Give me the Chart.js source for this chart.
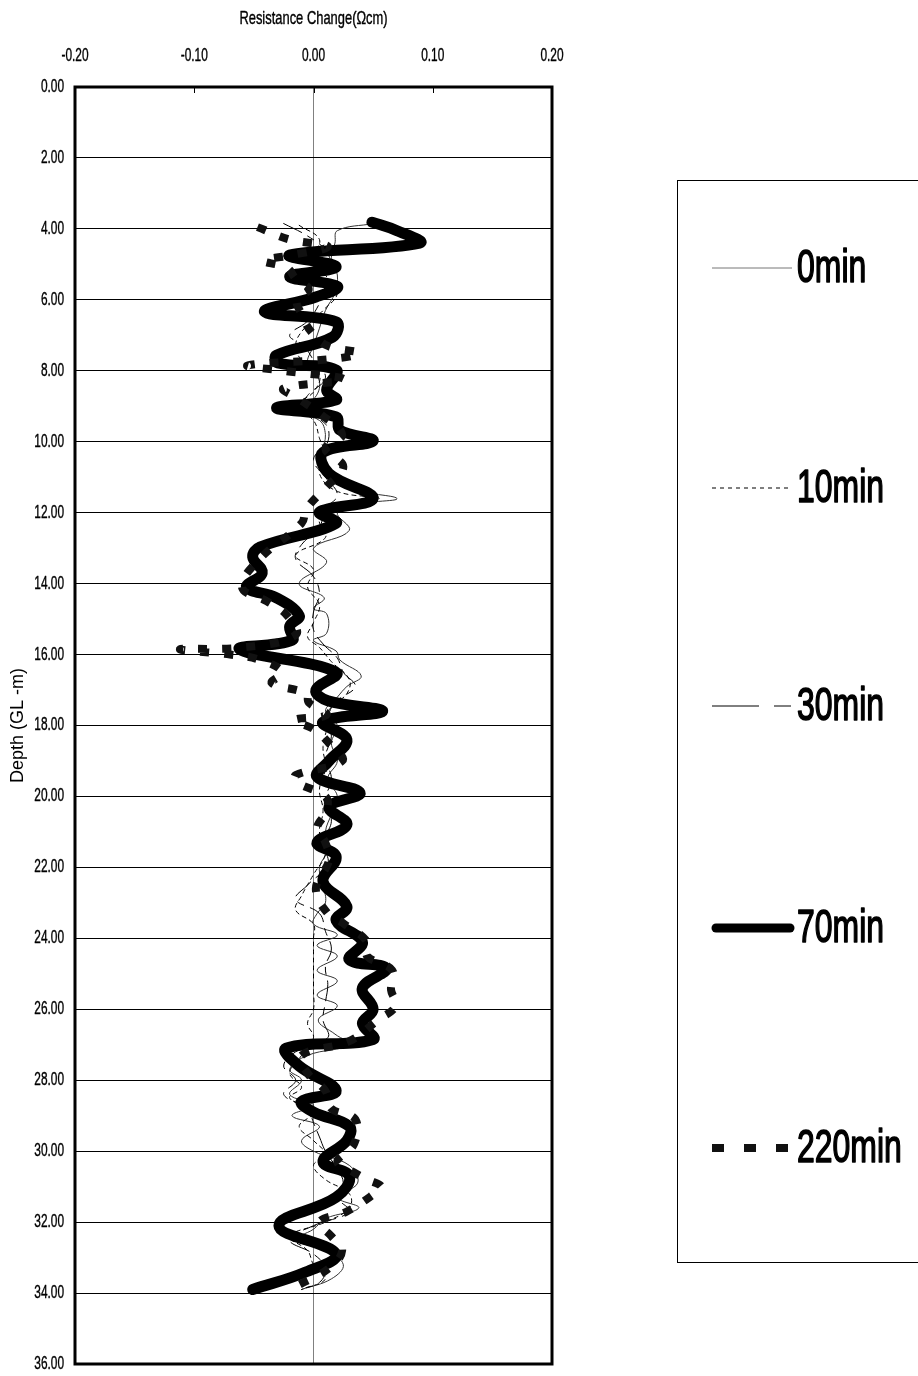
<!DOCTYPE html>
<html>
<head>
<meta charset="utf-8">
<script src="https://cdn.jsdelivr.net/npm/chart.js@4"></script>
<style>
  html, body { margin: 0; padding: 0; background: #fff; }
  #wrap { width: 918px; height: 1376px; }
</style>
</head>
<body>
<div id="wrap"><canvas id="profileChart" width="918" height="1376"></canvas></div>
<script>
// Resistance change profiles vs depth, one [depth, value] list per elapsed time
const series0 = [
  [3.85, 0.050], [4.05, 0.020], [4.4, 0.018], [4.8, 0.015], [5.3, 0.020], [5.8, 0.018],
  [6.3, 0.010], [6.8, 0.005], [7.3, 0.000], [7.8, -0.005], [8.3, 0.005], [8.8, 0.000],
  [9.1, -0.018], [9.4, 0.005], [9.8, 0.010], [10.3, 0.008], [10.8, 0.015], [11.3, 0.030],
  [11.6, 0.070], [11.75, 0.040], [12.0, 0.020], [12.5, 0.030], [13.0, 0.000], [13.4, 0.011],
  [14.0, -0.012], [14.4, 0.009], [14.7, 0.000], [14.85, 0.011], [15.4, 0.011], [15.6, 0.000],
  [15.9, 0.019], [16.15, 0.022], [16.6, 0.040], [16.9, 0.028], [17.2, 0.020], [17.6, 0.010],
  [18.0, 0.020], [18.5, 0.015], [19.0, 0.020], [19.5, 0.012], [20.0, 0.020], [20.5, 0.015],
  [21.0, 0.010], [21.5, 0.012], [22.0, 0.005], [22.5, 0.008], [23.0, 0.010], [23.3, 0.003],
  [23.6, 0.000], [23.9, 0.020], [24.2, 0.003], [24.5, 0.020], [24.9, 0.003], [25.2, 0.020],
  [25.6, 0.003], [25.9, 0.020], [26.3, 0.004], [26.7, 0.018], [27.0, 0.030], [27.3, -0.005],
  [27.7, -0.020], [28.0, -0.010], [28.4, -0.020], [28.7, 0.000], [29.0, -0.018], [29.3, 0.005],
  [29.7, -0.010], [30.0, 0.000], [30.4, 0.030], [30.9, 0.037], [31.3, 0.020], [31.6, 0.038],
  [31.9, 0.010], [32.2, 0.000], [32.5, -0.015], [32.8, 0.010], [33.2, 0.025], [33.6, 0.015],
  [33.9, -0.010]
];
const series10 = [
  [3.9, -0.012], [4.3, 0.005], [4.8, 0.000], [5.3, 0.010], [5.8, 0.020], [6.3, 0.008],
  [6.9, -0.010], [7.3, -0.015], [7.7, -0.010], [8.1, 0.005], [8.6, 0.000], [9.0, -0.015],
  [9.4, 0.000], [9.9, 0.005], [10.4, 0.010], [10.9, 0.005], [11.4, 0.020], [11.6, 0.055],
  [11.8, 0.020], [12.2, 0.005], [12.7, 0.010], [13.2, -0.015], [13.6, 0.000], [14.1, -0.005],
  [14.6, 0.005], [15.1, 0.000], [15.5, -0.005], [15.8, 0.005], [16.2, 0.015], [16.7, 0.030],
  [17.1, 0.028], [17.5, 0.015], [18.0, 0.012], [18.6, 0.008], [19.2, 0.010], [19.8, 0.005],
  [20.4, 0.008], [21.0, 0.005], [21.6, 0.010], [22.2, 0.000], [22.8, -0.010], [23.2, -0.015],
  [23.6, 0.000], [24.0, 0.000], [24.5, 0.000], [25.0, 0.000], [25.5, 0.000], [26.0, 0.000],
  [26.4, -0.005], [26.8, 0.000], [27.3, -0.010], [27.8, -0.020], [28.2, -0.010], [28.5, -0.020],
  [28.9, 0.000], [29.3, -0.012], [29.7, 0.000], [30.1, 0.010], [30.4, 0.000], [30.8, 0.010],
  [31.2, 0.030], [31.6, 0.030], [32.0, 0.010], [32.4, -0.020], [32.8, -0.005], [33.2, 0.000],
  [33.6, 0.010], [33.9, -0.010]
];
const series30 = [
  [3.85, -0.025], [4.2, -0.005], [4.6, 0.010], [5.1, 0.015], [5.6, 0.010], [6.1, 0.005],
  [6.6, -0.005], [7.0, -0.020], [7.3, -0.008], [7.7, 0.000], [8.2, 0.010], [8.7, -0.005],
  [9.1, -0.010], [9.5, 0.010], [10.0, 0.012], [10.5, 0.000], [11.0, 0.010], [11.5, 0.020],
  [11.9, 0.010], [12.4, 0.005], [12.9, -0.010], [13.3, -0.015], [13.8, 0.000], [14.3, 0.005],
  [14.8, 0.000], [15.3, 0.000], [15.7, 0.008], [16.1, 0.020], [16.5, 0.025], [16.9, 0.035],
  [17.3, 0.020], [17.8, 0.010], [18.3, 0.015], [18.9, 0.010], [19.5, 0.015], [20.1, 0.010],
  [20.7, 0.015], [21.3, 0.008], [21.9, 0.012], [22.5, -0.005], [22.9, -0.015], [23.3, 0.005],
  [23.8, 0.010], [24.3, 0.015], [24.8, 0.010], [25.3, 0.012], [25.8, 0.010], [26.3, 0.008],
  [26.8, 0.012], [27.2, -0.015], [27.6, -0.025], [28.0, -0.015], [28.4, -0.025], [28.8, -0.005],
  [29.2, 0.000], [29.6, 0.005], [30.0, 0.010], [30.5, 0.020], [30.9, 0.025], [31.3, 0.020],
  [31.7, 0.030], [32.1, 0.000], [32.5, -0.020], [32.9, 0.000], [33.3, 0.010], [33.7, 0.005],
  [33.9, -0.012]
];
const series70 = [
  [3.81, 0.049], [4.05, 0.070], [4.40, 0.089], [4.74, -0.020], [5.07, 0.019], [5.35, -0.020],
  [5.62, 0.020], [5.92, 0.002], [6.34, -0.041], [6.62, 0.019], [7.05, 0.016], [7.56, -0.031],
  [7.78, -0.030], [7.98, 0.019], [8.54, 0.011], [8.82, 0.019], [9.05, -0.031], [9.30, 0.019],
  [9.67, 0.022], [9.98, 0.050], [10.30, 0.008], [10.90, 0.013], [11.60, 0.050], [11.98, 0.005],
  [12.30, 0.019], [12.97, -0.045], [13.25, -0.051], [13.70, -0.043], [14.10, -0.056], [14.40, -0.031],
  [14.90, -0.012], [15.20, -0.020], [15.60, -0.018], [15.85, -0.062], [16.50, 0.019], [17.00, 0.002],
  [17.30, 0.012], [17.60, 0.058], [17.90, 0.008], [18.40, 0.028], [19.00, 0.013], [19.45, 0.003],
  [19.90, 0.039], [20.30, 0.013], [20.80, 0.028], [21.30, 0.003], [21.70, 0.019], [22.40, 0.008],
  [23.10, 0.028], [23.50, 0.019], [24.10, 0.041], [24.60, 0.030], [24.85, 0.061], [25.40, 0.041],
  [26.00, 0.050], [26.40, 0.041], [26.85, 0.050], [27.10, -0.023], [27.60, -0.012], [28.30, 0.019],
  [28.60, -0.010], [28.90, 0.000], [29.30, 0.030], [29.70, 0.028], [30.30, 0.008], [30.70, 0.030],
  [31.30, 0.019], [32.10, -0.029], [32.90, 0.019], [33.40, -0.006], [33.90, -0.051]
];
const series220 = [
  [3.95, -0.047], [4.30, -0.020], [4.50, 0.012], [4.75, -0.020], [4.90, -0.042], [5.10, -0.022],
  [5.40, -0.015], [5.70, -0.004], [6.00, -0.014], [6.40, -0.010], [6.90, -0.002], [7.30, 0.012],
  [7.50, 0.038], [7.65, 0.020], [7.85, -0.055], [8.00, -0.025], [8.25, 0.026], [8.50, -0.025],
  [8.80, -0.012], [9.20, 0.005], [9.80, 0.024], [10.20, 0.010], [10.70, 0.025], [11.30, 0.010],
  [11.90, -0.006], [12.30, -0.010], [13.30, -0.045], [14.10, -0.060], [14.50, -0.039], [14.90, -0.022],
  [15.45, -0.015], [15.80, -0.060], [15.85, -0.112], [16.00, -0.070], [16.15, -0.045], [16.50, -0.026],
  [16.80, -0.035], [17.10, -0.006], [17.35, -0.004], [17.70, 0.011], [17.85, -0.016], [18.10, 0.000],
  [18.50, 0.013], [19.00, 0.024], [19.40, -0.015], [19.60, -0.014], [20.00, 0.010], [20.40, 0.011],
  [20.90, 0.003], [21.30, 0.010], [21.80, 0.013], [22.60, 0.002], [23.30, 0.012], [23.60, 0.026],
  [24.10, 0.045], [24.50, 0.045], [24.90, 0.066], [25.45, 0.065], [25.90, 0.069], [26.30, 0.054],
  [26.90, 0.030], [27.30, -0.010], [27.80, -0.005], [28.30, 0.010], [28.80, 0.015], [29.10, 0.035],
  [29.80, 0.034], [30.30, 0.020], [30.60, 0.034], [30.80, 0.045], [31.00, 0.057], [31.20, 0.051],
  [31.70, 0.028], [32.00, 0.005], [32.40, 0.015], [32.80, 0.024], [33.30, 0.013], [33.80, -0.014]
];

const seriesLabels = ['0min', '10min', '30min', '70min', '220min'];
const xTicks = [-0.2, -0.1, 0, 0.1, 0.2];
const depthTicks = [0, 2, 4, 6, 8, 10, 12, 14, 16, 18, 20, 22, 24, 26, 28, 30, 32, 34, 36];

const FONT = '"Liberation Sans", Arial, sans-serif';

function toPoints(rows) {
  return rows.map(r => ({ x: r[1], y: r[0] }));
}

// squeezed text, the labels on this chart are very narrow; a light stroke
// keeps the stems as heavy as a real condensed face
function narrowText(ctx, str, x, y, size, align, sx, weight) {
  ctx.save();
  ctx.font = size + 'px ' + FONT;
  ctx.fillStyle = '#000';
  ctx.strokeStyle = '#000';
  ctx.lineWidth = weight || 0;
  ctx.lineJoin = 'round';
  ctx.textBaseline = 'middle';
  ctx.translate(x, y);
  ctx.scale(sx, 1);
  ctx.textAlign = align;
  ctx.fillText(str, 0, 0);
  if (weight) ctx.strokeText(str, 0, 0);
  ctx.restore();
}

const lineStyles = [
  { borderColor: '#333', borderWidth: 1, borderDash: [] },
  { borderColor: '#000', borderWidth: 1, borderDash: [4, 4] },
  { borderColor: '#000', borderWidth: 1, borderDash: [20, 7, 7, 7] },
  { borderColor: '#000', borderWidth: 11, borderDash: [] },
  { borderColor: '#111', borderWidth: 8, borderDash: [9, 15] }
];
const allSeries = [series0, series10, series30, series70, series220];

const datasets = allSeries.map((s, i) => ({
  label: seriesLabels[i],
  data: toPoints(s),
  showLine: true,
  tension: 0.4,
  pointRadius: 0,
  borderColor: lineStyles[i].borderColor,
  borderWidth: lineStyles[i].borderWidth,
  borderDash: lineStyles[i].borderDash,
  borderCapStyle: i === 4 ? 'butt' : 'round',
  borderJoinStyle: 'round',
  fill: false,
  order: [4, 3, 2, 1, 0][i]
}));

// axis texts, frame and the boxed legend on the right
const decorations = {
  id: 'decorations',
  afterDraw(chart) {
    const ctx = chart.ctx;
    const area = chart.chartArea;
    const xs = chart.scales.x;
    const ys = chart.scales.y;

    ctx.save();
    ctx.strokeStyle = '#000';
    ctx.lineWidth = 3;
    ctx.strokeRect(area.left, area.top, area.right - area.left, area.bottom - area.top);

    // short inner ticks on the top edge
    ctx.lineWidth = 1;
    xTicks.slice(1, -1).forEach(v => {
      const px = Math.round(xs.getPixelForValue(v)) + 0.5;
      ctx.beginPath();
      ctx.moveTo(px, area.top);
      ctx.lineTo(px, area.top + 6);
      ctx.stroke();
    });
    ctx.restore();

    xTicks.forEach(v => {
      narrowText(ctx, v.toFixed(2), xs.getPixelForValue(v), 56, 18, 'center', 0.66, 0.4);
    });
    depthTicks.forEach(v => {
      narrowText(ctx, v.toFixed(2), 64, ys.getPixelForValue(v), 18, 'right', 0.66, 0.4);
    });
    narrowText(ctx, 'Resistance Change(\u03A9cm)', (area.left + area.right) / 2, 19, 19, 'center', 0.68, 0.4);

    ctx.save();
    ctx.translate(18, ys.getPixelForValue(18));
    ctx.rotate(-Math.PI / 2);
    ctx.font = '18px ' + FONT;
    ctx.fillStyle = '#000';
    ctx.textAlign = 'center';
    ctx.textBaseline = 'middle';
    ctx.fillText('Depth (GL -m)', 0, 0);
    ctx.restore();

    // legend box
    const box = { left: 677.5, top: 180.5, right: 930, bottom: 1262.5 };
    ctx.save();
    ctx.strokeStyle = '#000';
    ctx.lineWidth = 1;
    ctx.strokeRect(box.left, box.top, box.right - box.left, box.bottom - box.top);
    const rowY = [268, 488, 706, 928, 1148];
    chart.data.datasets.forEach((ds, i) => {
      const y = rowY[i];
      ctx.save();
      ctx.strokeStyle = i === 0 ? '#777' : ds.borderColor;
      ctx.lineWidth = i === 3 ? 9 : ds.borderWidth;
      ctx.setLineDash(i === 4 ? [12, 20] : i === 2 ? [47, 15, 17, 15] : ds.borderDash);
      ctx.lineCap = i === 3 ? 'round' : 'butt';
      ctx.beginPath();
      ctx.moveTo(i === 3 ? 716 : 712, y);
      ctx.lineTo(i === 3 ? 790 : 792, y);
      ctx.stroke();
      ctx.restore();
      narrowText(ctx, ds.label, 797, y + 1, 47, 'left', 0.68, 1.6);
    });
    ctx.restore();
  }
};

const config = {
  type: 'scatter',
  data: { datasets: datasets },
  options: {
    responsive: false,
    animation: false,
    events: [],
    layout: { padding: { left: 75, right: 366, top: 87, bottom: 12 } },
    plugins: {
      legend: { display: false },
      tooltip: { enabled: false }
    },
    scales: {
      x: {
        type: 'linear',
        position: 'top',
        min: -0.2,
        max: 0.2,
        ticks: { display: false, stepSize: 0.1 },
        border: { display: false },
        grid: {
          drawTicks: false,
          color: c => (c.tick && Math.abs(c.tick.value) < 1e-9 ? '#808080' : 'rgba(0,0,0,0)'),
          lineWidth: 1
        }
      },
      y: {
        type: 'linear',
        reverse: true,
        min: 0,
        max: 36,
        ticks: { display: false, stepSize: 2 },
        border: { display: false },
        grid: { drawTicks: false, color: '#000', lineWidth: 1 }
      }
    }
  },
  plugins: [decorations]
};

const ctx = document.getElementById('profileChart').getContext('2d');
new Chart(ctx, config);
</script>
</body>
</html>
